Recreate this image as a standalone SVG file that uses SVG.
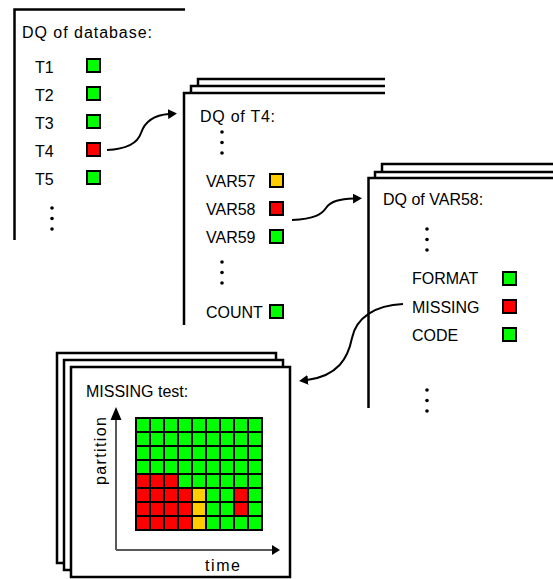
<svg xmlns="http://www.w3.org/2000/svg" width="553" height="579" viewBox="0 0 553 579">
<defs>
<style>
.pg{fill:none;stroke:#000;stroke-width:2.5}
.pgf{fill:#fff;stroke:#000;stroke-width:2.5}
.t{font-family:"Liberation Sans",Arial,sans-serif;font-size:16px;fill:#000}
.sq{stroke:#000;stroke-width:2}
.g{fill:#00ff00}
.r{fill:#ff0000}
.y{fill:#ffcc00}
.dot{fill:#000}
.con{fill:none;stroke:#000;stroke-width:2}
.ax{stroke:#595959;stroke-width:2;fill:none}
</style>
<marker id="ah" viewBox="0 0 9 10" refX="1" refY="5" markerWidth="9" markerHeight="10" markerUnits="userSpaceOnUse" orient="auto">
<path d="M0,0 L9,5 L0,10 z" fill="#000"/>
</marker>
</defs>
<rect width="553" height="579" fill="#fff"/>

<g id="panel-database">
<path class="pg" d="M14.5,240 V9.5 H185"/>
<text class="t" x="22" y="38" textLength="130" lengthAdjust="spacing">DQ of database:</text>
<text class="t" x="35" y="73">T1</text>
<text class="t" x="35" y="101">T2</text>
<text class="t" x="35" y="129">T3</text>
<text class="t" x="35" y="157">T4</text>
<text class="t" x="35" y="185">T5</text>
<rect class="sq g" x="87" y="59" width="13" height="13"/>
<rect class="sq g" x="87" y="87" width="13" height="13"/>
<rect class="sq g" x="87" y="115" width="13" height="13"/>
<rect class="sq r" x="87" y="143" width="13" height="13"/>
<rect class="sq g" x="87" y="171" width="13" height="13"/>
<circle class="dot" cx="52" cy="208" r="1.8"/>
<circle class="dot" cx="52" cy="218.5" r="1.8"/>
<circle class="dot" cx="52" cy="229" r="1.8"/>
</g>

<g id="panel-t4">
<path class="pg" d="M198,86 V79 H385"/>
<path class="pg" d="M191,93 V86 H385"/>
<path class="pg" d="M184,325 V93 H385"/>
<text class="t" x="200" y="122" textLength="75" lengthAdjust="spacing">DQ of T4:</text>
<circle class="dot" cx="222" cy="132" r="1.8"/>
<circle class="dot" cx="222" cy="142.5" r="1.8"/>
<circle class="dot" cx="222" cy="153" r="1.8"/>
<text class="t" x="206" y="187">VAR57</text>
<text class="t" x="206" y="215">VAR58</text>
<text class="t" x="206" y="243">VAR59</text>
<rect class="sq y" x="270" y="174" width="13" height="13"/>
<rect class="sq r" x="270" y="202" width="13" height="13"/>
<rect class="sq g" x="270" y="230" width="13" height="13"/>
<circle class="dot" cx="222" cy="262" r="1.8"/>
<circle class="dot" cx="222" cy="272.5" r="1.8"/>
<circle class="dot" cx="222" cy="283" r="1.8"/>
<text class="t" x="206" y="318">COUNT</text>
<rect class="sq g" x="270" y="305" width="13" height="13"/>
</g>

<g id="panel-var58">
<path class="pg" d="M382,172 V164 H553"/>
<path class="pg" d="M375,178 V172 H553"/>
<path class="pg" d="M368.5,408 V178 H553"/>
<text class="t" x="383" y="205">DQ of VAR58:</text>
<circle class="dot" cx="427" cy="229" r="1.8"/>
<circle class="dot" cx="427" cy="239.5" r="1.8"/>
<circle class="dot" cx="427" cy="250" r="1.8"/>
<text class="t" x="412" y="284">FORMAT</text>
<text class="t" x="412" y="312.5">MISSING</text>
<text class="t" x="412" y="340.5">CODE</text>
<rect class="sq g" x="503" y="272" width="13" height="13"/>
<rect class="sq r" x="503" y="300" width="13" height="13"/>
<rect class="sq g" x="503" y="328" width="13" height="13"/>
<circle class="dot" cx="427" cy="390" r="1.8"/>
<circle class="dot" cx="427" cy="400.5" r="1.8"/>
<circle class="dot" cx="427" cy="411" r="1.8"/>
</g>

<g id="panel-missing-test">
<rect class="pgf" x="57" y="353" width="219" height="210"/>
<rect class="pgf" x="64" y="360" width="219" height="210"/>
<rect class="pgf" x="71" y="367" width="219" height="210"/>
<text class="t" x="86" y="397">MISSING test:</text>
<path class="ax" d="M116,550 V418 M116,550 H272"/>
<path d="M116,407 L121.5,420 L110.5,420 z" fill="#000"/>
<path d="M280,550 L272,545 L272,555 z" fill="#000"/>
<text class="t" transform="translate(106,451) rotate(-90)" text-anchor="middle" textLength="68" lengthAdjust="spacing">partition</text>
<text class="t" x="205" y="571" textLength="35" lengthAdjust="spacing">time</text>
<rect x="135" y="417" width="128" height="114" fill="#000"/>
<g id="grid-cells">
<g class="g">
<rect x="137" y="419" width="12" height="12"/><rect x="151" y="419" width="12" height="12"/><rect x="165" y="419" width="12" height="12"/><rect x="179" y="419" width="12" height="12"/><rect x="193" y="419" width="12" height="12"/><rect x="207" y="419" width="12" height="12"/><rect x="221" y="419" width="12" height="12"/><rect x="235" y="419" width="12" height="12"/><rect x="249" y="419" width="12" height="12"/>
<rect x="137" y="433" width="12" height="12"/><rect x="151" y="433" width="12" height="12"/><rect x="165" y="433" width="12" height="12"/><rect x="179" y="433" width="12" height="12"/><rect x="193" y="433" width="12" height="12"/><rect x="207" y="433" width="12" height="12"/><rect x="221" y="433" width="12" height="12"/><rect x="235" y="433" width="12" height="12"/><rect x="249" y="433" width="12" height="12"/>
<rect x="137" y="447" width="12" height="12"/><rect x="151" y="447" width="12" height="12"/><rect x="165" y="447" width="12" height="12"/><rect x="179" y="447" width="12" height="12"/><rect x="193" y="447" width="12" height="12"/><rect x="207" y="447" width="12" height="12"/><rect x="221" y="447" width="12" height="12"/><rect x="235" y="447" width="12" height="12"/><rect x="249" y="447" width="12" height="12"/>
<rect x="137" y="461" width="12" height="12"/><rect x="151" y="461" width="12" height="12"/><rect x="165" y="461" width="12" height="12"/><rect x="179" y="461" width="12" height="12"/><rect x="193" y="461" width="12" height="12"/><rect x="207" y="461" width="12" height="12"/><rect x="221" y="461" width="12" height="12"/><rect x="235" y="461" width="12" height="12"/><rect x="249" y="461" width="12" height="12"/>
<rect x="179" y="475" width="12" height="12"/><rect x="193" y="475" width="12" height="12"/><rect x="207" y="475" width="12" height="12"/><rect x="221" y="475" width="12" height="12"/><rect x="235" y="475" width="12" height="12"/><rect x="249" y="475" width="12" height="12"/>
<rect x="207" y="489" width="12" height="12"/><rect x="221" y="489" width="12" height="12"/><rect x="249" y="489" width="12" height="12"/>
<rect x="207" y="503" width="12" height="12"/><rect x="221" y="503" width="12" height="12"/><rect x="249" y="503" width="12" height="12"/>
<rect x="207" y="517" width="12" height="12"/><rect x="221" y="517" width="12" height="12"/><rect x="235" y="517" width="12" height="12"/><rect x="249" y="517" width="12" height="12"/>
</g>
<g class="r">
<rect x="137" y="475" width="12" height="12"/><rect x="151" y="475" width="12" height="12"/><rect x="165" y="475" width="12" height="12"/>
<rect x="137" y="489" width="12" height="12"/><rect x="151" y="489" width="12" height="12"/><rect x="165" y="489" width="12" height="12"/><rect x="179" y="489" width="12" height="12"/><rect x="235" y="489" width="12" height="12"/>
<rect x="137" y="503" width="12" height="12"/><rect x="151" y="503" width="12" height="12"/><rect x="165" y="503" width="12" height="12"/><rect x="179" y="503" width="12" height="12"/><rect x="235" y="503" width="12" height="12"/>
<rect x="137" y="517" width="12" height="12"/><rect x="151" y="517" width="12" height="12"/><rect x="165" y="517" width="12" height="12"/><rect x="179" y="517" width="12" height="12"/>
</g>
<g class="y">
<rect x="193" y="489" width="12" height="12"/><rect x="193" y="503" width="12" height="12"/><rect x="193" y="517" width="12" height="12"/>
</g>
</g>
</g>

<g id="connectors">
<path class="con" marker-end="url(#ah)" d="M107,150 C130,149 138,142 141,133 C145,121 155,115 169,114"/>
<path class="con" marker-end="url(#ah)" d="M292,220 C315,219 322,214 326,208 C331,201 340,199 354,198.5"/>
<path class="con" marker-end="url(#ah)" d="M403,304 C375,305 356,318 352,338 C348,358 338,376 307,380"/>
</g>
</svg>
